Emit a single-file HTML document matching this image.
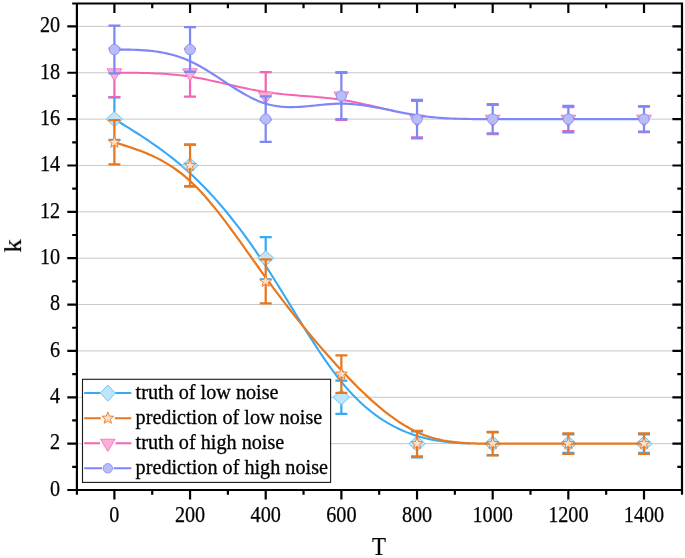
<!DOCTYPE html>
<html><head><meta charset="utf-8"><title>chart</title>
<style>html,body{margin:0;padding:0;background:#fff;}body{width:685px;height:558px;overflow:hidden;font-family:"Liberation Serif",serif;}svg{display:block;}</style>
</head><body>
<svg width="685" height="558" viewBox="0 0 685 558">
<rect width="685" height="558" fill="#fff"/>
<line x1="76.90" x2="682.00" y1="443.64" y2="443.64" stroke="#c8c8c8" stroke-width="1"/>
<line x1="76.90" x2="682.00" y1="397.28" y2="397.28" stroke="#c8c8c8" stroke-width="1"/>
<line x1="76.90" x2="682.00" y1="350.92" y2="350.92" stroke="#c8c8c8" stroke-width="1"/>
<line x1="76.90" x2="682.00" y1="304.56" y2="304.56" stroke="#c8c8c8" stroke-width="1"/>
<line x1="76.90" x2="682.00" y1="258.20" y2="258.20" stroke="#c8c8c8" stroke-width="1"/>
<line x1="76.90" x2="682.00" y1="211.84" y2="211.84" stroke="#c8c8c8" stroke-width="1"/>
<line x1="76.90" x2="682.00" y1="165.48" y2="165.48" stroke="#c8c8c8" stroke-width="1"/>
<line x1="76.90" x2="682.00" y1="119.12" y2="119.12" stroke="#c8c8c8" stroke-width="1"/>
<line x1="76.90" x2="682.00" y1="72.76" y2="72.76" stroke="#c8c8c8" stroke-width="1"/>
<line x1="76.90" x2="682.00" y1="26.40" y2="26.40" stroke="#c8c8c8" stroke-width="1"/>
<path d="M114.40 119.12L118.18 121.44L121.97 123.76L125.75 126.10L129.53 128.45L133.31 130.83L137.10 133.24L140.88 135.68L144.66 138.16L148.45 140.69L152.23 143.27L156.01 145.90L159.79 148.60L163.58 151.38L167.36 154.22L171.14 157.15L174.93 160.16L178.71 163.27L182.49 166.48L186.27 169.79L190.06 173.21L193.84 176.74L197.62 180.39L201.41 184.16L205.19 188.04L208.97 192.04L212.75 196.15L216.54 200.39L220.32 204.73L224.10 209.19L227.89 213.77L231.67 218.47L235.45 223.28L239.23 228.20L243.02 233.24L246.80 238.40L250.58 243.67L254.37 249.06L258.15 254.57L261.93 260.19L265.71 265.93L269.50 271.78L273.28 277.73L277.06 283.75L280.85 289.85L284.63 295.99L288.41 302.16L292.19 308.34L295.98 314.51L299.76 320.66L303.54 326.77L307.33 332.83L311.11 338.80L314.89 344.69L318.67 350.46L322.46 356.11L326.24 361.61L330.02 366.95L333.81 372.11L337.59 377.08L341.37 381.83L345.15 386.35L348.94 390.64L352.72 394.72L356.50 398.58L360.29 402.23L364.07 405.68L367.85 408.93L371.63 411.99L375.42 414.87L379.20 417.56L382.98 420.08L386.77 422.44L390.55 424.63L394.33 426.66L398.11 428.55L401.90 430.29L405.68 431.89L409.46 433.36L413.25 434.70L417.03 435.91L420.81 437.02L424.59 438.01L428.38 438.89L432.16 439.68L435.94 440.38L439.73 440.99L443.51 441.52L447.29 441.97L451.07 442.35L454.86 442.67L458.64 442.94L462.42 443.15L466.21 443.31L469.99 443.43" fill="none" stroke="#36abf4" stroke-width="2.1" stroke-linejoin="round"/>
<path d="M114.40 97.33V120.16M108.40 97.33H120.40M108.40 139.98H120.40" stroke="#36abf4" stroke-width="2.25" fill="none"/>
<path d="M184.06 144.62H196.06M184.06 186.34H196.06" stroke="#36abf4" stroke-width="2.25" fill="none"/>
<path d="M265.71 237.11V259.36M259.71 237.11H271.71M259.71 279.29H271.71" stroke="#36abf4" stroke-width="2.25" fill="none"/>
<path d="M341.37 392.88V413.97M335.37 380.59H347.37M335.37 413.97H347.37" stroke="#36abf4" stroke-width="2.25" fill="none"/>
<path d="M417.03 456.39V457.32M411.03 431.35H423.03M411.03 457.32H423.03" stroke="#36abf4" stroke-width="2.25" fill="none"/>
<path d="M486.69 432.28H498.69M486.69 455.00H498.69" stroke="#36abf4" stroke-width="2.25" fill="none"/>
<path d="M562.34 434.37H574.34M562.34 452.91H574.34" stroke="#36abf4" stroke-width="2.25" fill="none"/>
<path d="M638.00 434.37H650.00M638.00 452.91H650.00" stroke="#36abf4" stroke-width="2.25" fill="none"/>
<path d="M106.20 119.12L114.40 111.62L122.60 119.12L114.40 126.62Z" fill="#c0e5fa" stroke="#6ec5f5" stroke-width="1"/>
<path d="M181.86 165.48L190.06 157.98L198.26 165.48L190.06 172.98Z" fill="#c0e5fa" stroke="#6ec5f5" stroke-width="1"/>
<path d="M257.51 258.20L265.71 250.70L273.91 258.20L265.71 265.70Z" fill="#c0e5fa" stroke="#6ec5f5" stroke-width="1"/>
<path d="M333.17 397.28L341.37 389.78L349.57 397.28L341.37 404.78Z" fill="#c0e5fa" stroke="#6ec5f5" stroke-width="1"/>
<path d="M408.83 443.64L417.03 436.14L425.23 443.64L417.03 451.14Z" fill="#c0e5fa" stroke="#6ec5f5" stroke-width="1"/>
<path d="M484.49 443.64L492.69 436.14L500.89 443.64L492.69 451.14Z" fill="#c0e5fa" stroke="#6ec5f5" stroke-width="1"/>
<path d="M560.14 443.64L568.34 436.14L576.54 443.64L568.34 451.14Z" fill="#c0e5fa" stroke="#6ec5f5" stroke-width="1"/>
<path d="M635.80 443.64L644.00 436.14L652.20 443.64L644.00 451.14Z" fill="#c0e5fa" stroke="#6ec5f5" stroke-width="1"/>
<path d="M114.40 142.30L118.18 143.46L121.97 144.63L125.75 145.83L129.53 147.06L133.31 148.34L137.10 149.67L140.88 151.08L144.66 152.56L148.45 154.14L152.23 155.82L156.01 157.62L159.79 159.55L163.58 161.61L167.36 163.83L171.14 166.20L174.93 168.76L178.71 171.49L182.49 174.43L186.27 177.57L190.06 180.93L193.84 184.52L197.62 188.33L201.41 192.34L205.19 196.54L208.97 200.91L212.75 205.45L216.54 210.12L220.32 214.93L224.10 219.85L227.89 224.88L231.67 229.99L235.45 235.17L239.23 240.42L243.02 245.70L246.80 251.02L250.58 256.35L254.37 261.67L258.15 266.99L261.93 272.27L265.71 277.52L269.50 282.70L273.28 287.83L277.06 292.90L280.85 297.92L284.63 302.87L288.41 307.77L292.19 312.61L295.98 317.39L299.76 322.11L303.54 326.77L307.33 331.38L311.11 335.93L314.89 340.42L318.67 344.85L322.46 349.23L326.24 353.55L330.02 357.81L333.81 362.01L337.59 366.15L341.37 370.24L345.15 374.26L348.94 378.23L352.72 382.12L356.50 385.94L360.29 389.67L364.07 393.32L367.85 396.88L371.63 400.34L375.42 403.69L379.20 406.94L382.98 410.07L386.77 413.07L390.55 415.95L394.33 418.70L398.11 421.31L401.90 423.77L405.68 426.08L409.46 428.23L413.25 430.23L417.03 432.05L420.81 433.70L424.59 435.19L428.38 436.52L432.16 437.71L435.94 438.75L439.73 439.66L443.51 440.46L447.29 441.14L451.07 441.71L454.86 442.19L458.64 442.58L462.42 442.90L466.21 443.14L469.99 443.33L473.77 443.46L477.55 443.55L481.34 443.60L485.12 443.63L488.90 443.64L492.69 443.64L496.47 443.64L500.25 443.64L504.03 443.64L507.82 443.64L511.60 443.64L515.38 443.64L519.17 443.64L522.95 443.64L526.73 443.64L530.51 443.64L534.30 443.64L538.08 443.64L541.86 443.64L545.65 443.64L549.43 443.64L553.21 443.64L556.99 443.64L560.78 443.64L564.56 443.64L568.34 443.64L572.13 443.64L575.91 443.64L579.69 443.64L583.47 443.64L587.26 443.64L591.04 443.64L594.82 443.64L598.61 443.64L602.39 443.64L606.17 443.64L609.95 443.64L613.74 443.64L617.52 443.64L621.30 443.64L625.09 443.64L628.87 443.64L632.65 443.64L636.43 443.64L640.22 443.64L644.00 443.64" fill="none" stroke="#e8781f" stroke-width="2.2" stroke-linejoin="round"/>
<path d="M114.40 120.16V164.44M108.40 120.16H120.40M108.40 164.44H120.40" stroke="#e8781f" stroke-width="2.25" fill="none"/>
<path d="M190.06 144.62V186.34M184.06 144.62H196.06M184.06 186.34H196.06" stroke="#e8781f" stroke-width="2.25" fill="none"/>
<path d="M265.71 259.36V303.40M259.71 259.36H271.71M259.71 303.40H271.71" stroke="#e8781f" stroke-width="2.25" fill="none"/>
<path d="M341.37 355.32V392.88M335.37 355.32H347.37M335.37 392.88H347.37" stroke="#e8781f" stroke-width="2.25" fill="none"/>
<path d="M417.03 430.89V456.39M411.03 430.89H423.03M411.03 456.39H423.03" stroke="#e8781f" stroke-width="2.25" fill="none"/>
<path d="M492.69 431.89V455.39M486.69 431.89H498.69M486.69 455.39H498.69" stroke="#e8781f" stroke-width="2.25" fill="none"/>
<path d="M568.34 433.44V453.84M562.34 433.44H574.34M562.34 453.84H574.34" stroke="#e8781f" stroke-width="2.25" fill="none"/>
<path d="M644.00 433.44V453.84M638.00 433.44H650.00M638.00 453.84H650.00" stroke="#e8781f" stroke-width="2.25" fill="none"/>
<path d="M114.40 136.10L115.93 140.19L120.30 140.38L116.88 143.10L118.04 147.32L114.40 144.90L110.76 147.32L111.92 143.10L108.50 140.38L112.87 140.19Z" fill="#fcdfc6" stroke="#e8843a" stroke-width="1"/>
<path d="M190.06 159.28L191.59 163.37L195.95 163.56L192.53 166.28L193.70 170.50L190.06 168.08L186.41 170.50L187.58 166.28L184.16 163.56L188.53 163.37Z" fill="#fcdfc6" stroke="#e8843a" stroke-width="1"/>
<path d="M265.71 275.18L267.24 279.27L271.61 279.46L268.19 282.18L269.36 286.40L265.71 283.98L262.07 286.40L263.24 282.18L259.82 279.46L264.18 279.27Z" fill="#fcdfc6" stroke="#e8843a" stroke-width="1"/>
<path d="M341.37 367.90L342.90 371.99L347.27 372.18L343.85 374.90L345.02 379.12L341.37 376.70L337.73 379.12L338.89 374.90L335.47 372.18L339.84 371.99Z" fill="#fcdfc6" stroke="#e8843a" stroke-width="1"/>
<path d="M417.03 437.44L418.56 441.53L422.93 441.72L419.51 444.44L420.67 448.66L417.03 446.24L413.38 448.66L414.55 444.44L411.13 441.72L415.50 441.53Z" fill="#fcdfc6" stroke="#e8843a" stroke-width="1"/>
<path d="M492.69 437.44L494.22 441.53L498.58 441.72L495.16 444.44L496.33 448.66L492.69 446.24L489.04 448.66L490.21 444.44L486.79 441.72L491.16 441.53Z" fill="#fcdfc6" stroke="#e8843a" stroke-width="1"/>
<path d="M568.34 437.44L569.87 441.53L574.24 441.72L570.82 444.44L571.99 448.66L568.34 446.24L564.70 448.66L565.87 444.44L562.45 441.72L566.81 441.53Z" fill="#fcdfc6" stroke="#e8843a" stroke-width="1"/>
<path d="M644.00 437.44L645.53 441.53L649.90 441.72L646.48 444.44L647.64 448.66L644.00 446.24L640.36 448.66L641.52 444.44L638.10 441.72L642.47 441.53Z" fill="#fcdfc6" stroke="#e8843a" stroke-width="1"/>
<path d="M114.40 72.76L118.18 72.76L121.97 72.76L125.75 72.77L129.53 72.79L133.31 72.82L137.10 72.86L140.88 72.93L144.66 73.01L148.45 73.11L152.23 73.24L156.01 73.40L159.79 73.59L163.58 73.82L167.36 74.09L171.14 74.39L174.93 74.74L178.71 75.13L182.49 75.58L186.27 76.07L190.06 76.62L193.84 77.23L197.62 77.89L201.41 78.60L205.19 79.34L208.97 80.12L212.75 80.93L216.54 81.77L220.32 82.62L224.10 83.48L227.89 84.35L231.67 85.22L235.45 86.08L239.23 86.93L243.02 87.77L246.80 88.58L250.58 89.36L254.37 90.10L258.15 90.81L261.93 91.47L265.71 92.08L269.50 92.63L273.28 93.13L277.06 93.58L280.85 93.99L284.63 94.37L288.41 94.72L292.19 95.04L295.98 95.35L299.76 95.65L303.54 95.94L307.33 96.23L311.11 96.53L314.89 96.84L318.67 97.16L322.46 97.51L326.24 97.89L330.02 98.30L333.81 98.75L337.59 99.25L341.37 99.80L345.15 100.41L348.94 101.07L352.72 101.78L356.50 102.52L360.29 103.30L364.07 104.11L367.85 104.95L371.63 105.80L375.42 106.66L379.20 107.53L382.98 108.40L386.77 109.26L390.55 110.11L394.33 110.95" fill="none" stroke="#f564b4" stroke-width="2.0" stroke-linejoin="round"/>
<path d="M114.40 73.46V97.10M108.40 48.42H120.40M108.40 97.10H120.40" stroke="#f564b4" stroke-width="2.25" fill="none"/>
<path d="M190.06 71.97V96.64M184.06 48.88H196.06M184.06 96.64H196.06" stroke="#f564b4" stroke-width="2.25" fill="none"/>
<path d="M265.71 72.18V96.40M259.71 72.18H271.71M259.71 119.70H271.71" stroke="#f564b4" stroke-width="2.25" fill="none"/>
<path d="M341.37 72.06V72.76M341.37 119.12V119.82M335.37 72.06H347.37M335.37 119.82H347.37" stroke="#f564b4" stroke-width="2.25" fill="none"/>
<path d="M411.03 100.81H423.03M411.03 137.43H423.03" stroke="#f564b4" stroke-width="2.25" fill="none"/>
<path d="M492.69 104.05V104.98M492.69 133.26V134.19M486.69 104.05H498.69M486.69 134.19H498.69" stroke="#f564b4" stroke-width="2.25" fill="none"/>
<path d="M562.34 107.07H574.34M562.34 131.17H574.34" stroke="#f564b4" stroke-width="2.25" fill="none"/>
<path d="M644.00 106.14V106.60M644.00 131.64V132.10M638.00 106.14H650.00M638.00 132.10H650.00" stroke="#f564b4" stroke-width="2.25" fill="none"/>
<path d="M107.00 68.83L121.80 68.83L114.40 80.63Z" fill="#fbafd6" stroke="#f67cc0" stroke-width="1"/>
<path d="M182.66 68.83L197.46 68.83L190.06 80.63Z" fill="#fbafd6" stroke="#f67cc0" stroke-width="1"/>
<path d="M258.31 92.01L273.11 92.01L265.71 103.81Z" fill="#fbafd6" stroke="#f67cc0" stroke-width="1"/>
<path d="M333.97 92.01L348.77 92.01L341.37 103.81Z" fill="#fbafd6" stroke="#f67cc0" stroke-width="1"/>
<path d="M409.63 115.19L424.43 115.19L417.03 126.99Z" fill="#fbafd6" stroke="#f67cc0" stroke-width="1"/>
<path d="M485.29 115.19L500.09 115.19L492.69 126.99Z" fill="#fbafd6" stroke="#f67cc0" stroke-width="1"/>
<path d="M560.94 115.19L575.74 115.19L568.34 126.99Z" fill="#fbafd6" stroke="#f67cc0" stroke-width="1"/>
<path d="M636.60 115.19L651.40 115.19L644.00 126.99Z" fill="#fbafd6" stroke="#f67cc0" stroke-width="1"/>
<path d="M114.40 49.58L118.18 49.58L121.97 49.59L125.75 49.62L129.53 49.67L133.31 49.76L137.10 49.89L140.88 50.08L144.66 50.32L148.45 50.64L152.23 51.03L156.01 51.51L159.79 52.08L163.58 52.76L167.36 53.56L171.14 54.47L174.93 55.51L178.71 56.70L182.49 58.03L186.27 59.52L190.06 61.17L193.84 62.99L197.62 64.97L201.41 67.08L205.19 69.30L208.97 71.61L212.75 74.00L216.54 76.44L220.32 78.91L224.10 81.39L227.89 83.87L231.67 86.31L235.45 88.71L239.23 91.03L243.02 93.27L246.80 95.40L250.58 97.39L254.37 99.24L258.15 100.91L261.93 102.40L265.71 103.67L269.50 104.71L273.28 105.54L277.06 106.18L280.85 106.63L284.63 106.93L288.41 107.07L292.19 107.09L295.98 107.00L299.76 106.82L303.54 106.56L307.33 106.25L311.11 105.89L314.89 105.51L318.67 105.13L322.46 104.75L326.24 104.41L330.02 104.11L333.81 103.88L337.59 103.72L341.37 103.67L345.15 103.72L348.94 103.89L352.72 104.15L356.50 104.50L360.29 104.93L364.07 105.44L367.85 106.01L371.63 106.63L375.42 107.30L379.20 108.01L382.98 108.75L386.77 109.51L390.55 110.28L394.33 111.05L398.11 111.82L401.90 112.57L405.68 113.30L409.46 113.99L413.25 114.65L417.03 115.26L420.81 115.81L424.59 116.30L428.38 116.75L432.16 117.14L435.94 117.49L439.73 117.79L443.51 118.06L447.29 118.29L451.07 118.48L454.86 118.64L458.64 118.77L462.42 118.87L466.21 118.95L469.99 119.02L473.77 119.06L477.55 119.09L481.34 119.11L485.12 119.12L488.90 119.12L492.69 119.12L496.47 119.12L500.25 119.12L504.03 119.12L507.82 119.12L511.60 119.12L515.38 119.12L519.17 119.12L522.95 119.12L526.73 119.12L530.51 119.12L534.30 119.12L538.08 119.12L541.86 119.12L545.65 119.12L549.43 119.12L553.21 119.12L556.99 119.12L560.78 119.12L564.56 119.12L568.34 119.12L572.13 119.12L575.91 119.12L579.69 119.12L583.47 119.12L587.26 119.12L591.04 119.12L594.82 119.12L598.61 119.12L602.39 119.12L606.17 119.12L609.95 119.12L613.74 119.12L617.52 119.12L621.30 119.12L625.09 119.12L628.87 119.12L632.65 119.12L636.43 119.12L640.22 119.12L644.00 119.12" fill="none" stroke="#7d87f5" stroke-width="2.2" stroke-linejoin="round"/>
<path d="M114.40 25.70V73.46M108.40 25.70H120.40M108.40 73.46H120.40" stroke="#7d87f5" stroke-width="2.25" fill="none"/>
<path d="M190.06 27.19V71.97M184.06 27.19H196.06M184.06 71.97H196.06" stroke="#7d87f5" stroke-width="2.25" fill="none"/>
<path d="M265.71 96.40V141.84M259.71 96.40H271.71M259.71 141.84H271.71" stroke="#7d87f5" stroke-width="2.25" fill="none"/>
<path d="M341.37 72.76V119.12M335.37 72.76H347.37M335.37 119.12H347.37" stroke="#7d87f5" stroke-width="2.25" fill="none"/>
<path d="M417.03 99.88V138.36M411.03 99.88H423.03M411.03 138.36H423.03" stroke="#7d87f5" stroke-width="2.25" fill="none"/>
<path d="M492.69 104.98V133.26M486.69 104.98H498.69M486.69 133.26H498.69" stroke="#7d87f5" stroke-width="2.25" fill="none"/>
<path d="M568.34 105.84V132.40M562.34 105.84H574.34M562.34 132.40H574.34" stroke="#7d87f5" stroke-width="2.25" fill="none"/>
<path d="M644.00 106.60V131.64M638.00 106.60H650.00M638.00 131.64H650.00" stroke="#7d87f5" stroke-width="2.25" fill="none"/>
<circle cx="114.40" cy="49.58" r="5.2" fill="#b8bdfa" stroke="#8c96f5" stroke-width="1"/>
<circle cx="190.06" cy="49.58" r="5.2" fill="#b8bdfa" stroke="#8c96f5" stroke-width="1"/>
<circle cx="265.71" cy="119.12" r="5.2" fill="#b8bdfa" stroke="#8c96f5" stroke-width="1"/>
<circle cx="341.37" cy="95.94" r="5.2" fill="#b8bdfa" stroke="#8c96f5" stroke-width="1"/>
<circle cx="417.03" cy="119.12" r="5.2" fill="#b8bdfa" stroke="#8c96f5" stroke-width="1"/>
<circle cx="492.69" cy="119.12" r="5.2" fill="#b8bdfa" stroke="#8c96f5" stroke-width="1"/>
<circle cx="568.34" cy="119.12" r="5.2" fill="#b8bdfa" stroke="#8c96f5" stroke-width="1"/>
<circle cx="644.00" cy="119.12" r="5.2" fill="#b8bdfa" stroke="#8c96f5" stroke-width="1"/>
<g stroke="#000" stroke-width="2.2" fill="none" stroke-linecap="butt">
<path d="M76.90 2.40V491.10M682.00 2.40V491.10M76.90 3.50H682.00M76.90 490.00H682.00M76.90 490.00v4.7M76.90 3.50v4.7M114.40 490.00v9.6M114.40 3.50v9.6M152.23 490.00v4.7M152.23 3.50v4.7M190.06 490.00v9.6M190.06 3.50v9.6M227.89 490.00v4.7M227.89 3.50v4.7M265.71 490.00v9.6M265.71 3.50v9.6M303.54 490.00v4.7M303.54 3.50v4.7M341.37 490.00v9.6M341.37 3.50v9.6M379.20 490.00v4.7M379.20 3.50v4.7M417.03 490.00v9.6M417.03 3.50v9.6M454.86 490.00v4.7M454.86 3.50v4.7M492.69 490.00v9.6M492.69 3.50v9.6M530.51 490.00v4.7M530.51 3.50v4.7M568.34 490.00v9.6M568.34 3.50v9.6M606.17 490.00v4.7M606.17 3.50v4.7M644.00 490.00v9.6M644.00 3.50v9.6M682.00 490.00v4.7M682.00 3.50v4.7M76.90 490.00h-9.6M682.00 490.00h-9.6M76.90 466.82h-4.7M682.00 466.82h-4.7M76.90 443.64h-9.6M682.00 443.64h-9.6M76.90 420.46h-4.7M682.00 420.46h-4.7M76.90 397.28h-9.6M682.00 397.28h-9.6M76.90 374.10h-4.7M682.00 374.10h-4.7M76.90 350.92h-9.6M682.00 350.92h-9.6M76.90 327.74h-4.7M682.00 327.74h-4.7M76.90 304.56h-9.6M682.00 304.56h-9.6M76.90 281.38h-4.7M682.00 281.38h-4.7M76.90 258.20h-9.6M682.00 258.20h-9.6M76.90 235.02h-4.7M682.00 235.02h-4.7M76.90 211.84h-9.6M682.00 211.84h-9.6M76.90 188.66h-4.7M682.00 188.66h-4.7M76.90 165.48h-9.6M682.00 165.48h-9.6M76.90 142.30h-4.7M682.00 142.30h-4.7M76.90 119.12h-9.6M682.00 119.12h-9.6M76.90 95.94h-4.7M682.00 95.94h-4.7M76.90 72.76h-9.6M682.00 72.76h-9.6M76.90 49.58h-4.7M682.00 49.58h-4.7M76.90 26.40h-9.6M682.00 26.40h-9.6M76.90 3.50h-4.7M682.00 3.50h-4.7"/>
</g>
<g style="will-change:transform" font-family="Liberation Serif, serif" font-size="22.4" fill="#000" stroke="#000" stroke-width="0.25">
<text x="114.40" y="521.8" text-anchor="middle" textLength="10.1" lengthAdjust="spacingAndGlyphs">0</text>
<text x="190.06" y="521.8" text-anchor="middle" textLength="30.3" lengthAdjust="spacingAndGlyphs">200</text>
<text x="265.71" y="521.8" text-anchor="middle" textLength="30.3" lengthAdjust="spacingAndGlyphs">400</text>
<text x="341.37" y="521.8" text-anchor="middle" textLength="30.3" lengthAdjust="spacingAndGlyphs">600</text>
<text x="417.03" y="521.8" text-anchor="middle" textLength="30.3" lengthAdjust="spacingAndGlyphs">800</text>
<text x="492.69" y="521.8" text-anchor="middle" textLength="40.4" lengthAdjust="spacingAndGlyphs">1000</text>
<text x="568.34" y="521.8" text-anchor="middle" textLength="40.4" lengthAdjust="spacingAndGlyphs">1200</text>
<text x="644.00" y="521.8" text-anchor="middle" textLength="40.4" lengthAdjust="spacingAndGlyphs">1400</text>
<text x="60.2" y="495.80" text-anchor="end" textLength="10.1" lengthAdjust="spacingAndGlyphs">0</text>
<text x="60.2" y="449.44" text-anchor="end" textLength="10.1" lengthAdjust="spacingAndGlyphs">2</text>
<text x="60.2" y="403.08" text-anchor="end" textLength="10.1" lengthAdjust="spacingAndGlyphs">4</text>
<text x="60.2" y="356.72" text-anchor="end" textLength="10.1" lengthAdjust="spacingAndGlyphs">6</text>
<text x="60.2" y="310.36" text-anchor="end" textLength="10.1" lengthAdjust="spacingAndGlyphs">8</text>
<text x="60.2" y="264.00" text-anchor="end" textLength="20.2" lengthAdjust="spacingAndGlyphs">10</text>
<text x="60.2" y="217.64" text-anchor="end" textLength="20.2" lengthAdjust="spacingAndGlyphs">12</text>
<text x="60.2" y="171.28" text-anchor="end" textLength="20.2" lengthAdjust="spacingAndGlyphs">14</text>
<text x="60.2" y="124.92" text-anchor="end" textLength="20.2" lengthAdjust="spacingAndGlyphs">16</text>
<text x="60.2" y="78.56" text-anchor="end" textLength="20.2" lengthAdjust="spacingAndGlyphs">18</text>
<text x="60.2" y="32.20" text-anchor="end" textLength="20.2" lengthAdjust="spacingAndGlyphs">20</text>
</g>
<g style="will-change:transform" font-family="Liberation Serif, serif" font-size="26" fill="#000" stroke="#000" stroke-width="0.2">
<text x="378.9" y="554.9" text-anchor="middle" textLength="14.0" lengthAdjust="spacingAndGlyphs">T</text>
<text transform="translate(21.1 245.9) rotate(-90)" text-anchor="middle" textLength="13.6" lengthAdjust="spacingAndGlyphs">k</text>
</g>
<rect x="82.5" y="379.3" width="248.10" height="103.10" fill="#fff" stroke="#1a1a1a" stroke-width="1.1"/>
<g style="will-change:transform" font-family="Liberation Serif, serif" font-size="20.15" fill="#000" stroke="#000" stroke-width="0.3">
<text x="135.6" y="399.20" textLength="142.9" lengthAdjust="spacingAndGlyphs">truth of low noise</text>
<text x="135.6" y="424.30" textLength="186.6" lengthAdjust="spacingAndGlyphs">prediction of low noise</text>
<text x="135.6" y="449.40" textLength="148.7" lengthAdjust="spacingAndGlyphs">truth of high noise</text>
<text x="135.6" y="474.40" textLength="192.4" lengthAdjust="spacingAndGlyphs">prediction of high noise</text>
</g>
<path d="M84.2 393.1H100.39999999999999M115.2 393.1H131.3" stroke="#36abf4" stroke-width="2" fill="none"/>
<path d="M100.30 393.10L107.80 385.00L115.30 393.10L107.80 401.20Z" fill="#c0e5fa" stroke="#6ec5f5" stroke-width="1"/>
<path d="M84.2 418.2H100.8M114.8 418.2H131.3" stroke="#e8781f" stroke-width="2" fill="none"/>
<path d="M107.80 411.90L109.36 416.06L113.79 416.25L110.32 419.02L111.50 423.30L107.80 420.85L104.10 423.30L105.28 419.02L101.81 416.25L106.24 416.06Z" fill="#fcdfc6" stroke="#e8843a" stroke-width="1"/>
<path d="M84.2 443.3H100.0M115.6 443.3H131.3" stroke="#f564b4" stroke-width="2" fill="none"/>
<path d="M100.50 439.23L115.10 439.23L107.80 451.43Z" fill="#fbafd6" stroke="#f67cc0" stroke-width="1"/>
<path d="M84.2 468.3H102.0M113.6 468.3H131.3" stroke="#7d87f5" stroke-width="2" fill="none"/>
<circle cx="107.80" cy="468.30" r="4.7" fill="#b8bdfa" stroke="#8c96f5" stroke-width="1"/>
</svg>
</body></html>
